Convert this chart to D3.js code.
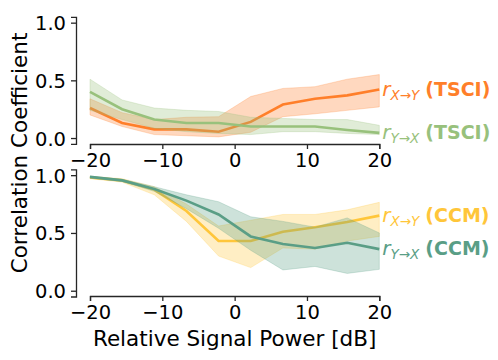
<!DOCTYPE html>
<html>
<head>
<meta charset="utf-8">
<script src="https://cdn.jsdelivr.net/npm/d3@7"></script>
<style>
  body { margin: 0; background: #fff; }
  svg text { font-family: "DejaVu Sans", sans-serif; }
</style>
</head>
<body>
<div id="chart"></div>
<script>
// relative signal power [dB]
const snr = [-20, -15.56, -11.11, -6.67, -2.22, 2.22, 6.67, 11.11, 15.56, 20];
const xTicks = [-20, -10, 0, 10, 20];
const yTicks = [0, 0.5, 1];

// top panel: TSCI
const tsciXY   = [0.26, 0.13, 0.075, 0.075, 0.055, 0.14, 0.29, 0.34, 0.37, 0.42];
const tsciXYLo = [0.20, 0.10, 0.03, 0.02, 0.01, 0.05, 0.185, 0.21, 0.24, 0.27];
const tsciXYHi = [0.34, 0.22, 0.16, 0.18, 0.185, 0.36, 0.43, 0.445, 0.51, 0.55];
const tsciYX   = [0.40, 0.25, 0.16, 0.13, 0.13, 0.10, 0.10, 0.10, 0.07, 0.045];
const tsciYXLo = [0.24, 0.16, 0.085, 0.055, 0.04, 0.03, 0.055, 0.055, 0.04, 0.03];
const tsciYXHi = [0.51, 0.33, 0.26, 0.24, 0.23, 0.18, 0.17, 0.16, 0.16, 0.11];

// bottom panel: CCM
const ccmXY   = [0.98, 0.955, 0.875, 0.69, 0.43, 0.43, 0.51, 0.55, 0.595, 0.65];
const ccmXYLo = [0.97, 0.94, 0.83, 0.60, 0.30, 0.20, 0.37, 0.36, 0.43, 0.47];
const ccmXYHi = [0.99, 0.97, 0.90, 0.75, 0.56, 0.61, 0.66, 0.66, 0.70, 0.765];
const ccmYX   = [0.985, 0.955, 0.88, 0.78, 0.66, 0.47, 0.405, 0.37, 0.415, 0.36];
const ccmYXLo = [0.975, 0.945, 0.86, 0.71, 0.54, 0.35, 0.18, 0.21, 0.15, 0.185];
const ccmYXHi = [0.99, 0.965, 0.90, 0.83, 0.77, 0.64, 0.60, 0.55, 0.63, 0.50];

const width = 498, height = 360;

const svg = d3.select("#chart")
  .append("svg")
  .attr("width", width)
  .attr("height", height);

// shared x scale
const x = d3.scaleLinear().domain([-20, 20]).range([90, 379.3]);

// one y scale per panel
const yTop = d3.scaleLinear().domain([-0.05, 1.05]).range([143.8, 16.9]);
const yBot = d3.scaleLinear().domain([-0.05, 1.05]).range([296.5, 169.4]);

const spineColor = "#262626";
const tickFont = 19.5;

function drawAxes(y, xSpineY) {
  // y axis (offset spine)
  const gy = svg.append("g")
    .attr("transform", "translate(76,0)")
    .call(d3.axisLeft(y).tickValues(yTicks).tickFormat(d3.format(".1f")).tickSize(5).tickPadding(5));
  gy.selectAll("text").attr("font-size", tickFont).attr("fill", "#000").attr("dy", "0.36em");
  // x axis (offset spine)
  const gx = svg.append("g")
    .attr("transform", `translate(0,${xSpineY})`)
    .call(d3.axisBottom(x).tickValues(xTicks).tickFormat(d => d < 0 ? "\u2212" + Math.abs(d) : d).tickSize(5).tickPadding(4));
  gx.selectAll("text").attr("font-size", tickFont).attr("fill", "#000");
  [gx, gy].forEach(g => {
    g.select(".domain").attr("stroke", spineColor).attr("stroke-width", 1.3);
    g.selectAll(".tick line").attr("stroke", spineColor).attr("stroke-width", 1.3);
  });
}

function drawSeries(y, vals, lo, hi, color) {
  const area = d3.area()
    .x((d, i) => x(snr[i]))
    .y0((d, i) => y(lo[i]))
    .y1((d, i) => y(hi[i]));
  svg.append("path")
    .datum(vals)
    .attr("d", area)
    .attr("fill", color)
    .attr("fill-opacity", 0.3)
    .attr("stroke", color)
    .attr("stroke-opacity", 0.25)
    .attr("stroke-width", 1);
  const line = d3.line()
    .x((d, i) => x(snr[i]))
    .y(d => y(d));
  svg.append("path")
    .datum(vals)
    .attr("d", line)
    .attr("fill", "none")
    .attr("stroke", color)
    .attr("stroke-width", 2.6);
}

// label next to the line end: r_{sub} (method)
function drawLabel(y, vals, sub, method, color) {
  const t = svg.append("text")
    .attr("x", x(20) + 3)
    .attr("y", y(vals[vals.length - 1]) + 6)
    .attr("fill", color)
    .attr("font-size", 19);
  t.append("tspan").attr("font-style", "italic").attr("font-size", 20).text("r");
  t.append("tspan").attr("font-style", "italic").attr("font-size", 13.5).attr("dy", 4).text(sub);
  t.append("tspan").attr("font-weight", "bold").attr("dy", -4).attr("dx", 6).text(method);
}

const cOrange = "#ff7f2a", cGreen = "#98c17c", cYellow = "#ffc63a", cTeal = "#5a9e86";

drawAxes(yTop, 144);
drawSeries(yTop, tsciXY, tsciXYLo, tsciXYHi, cOrange);
drawSeries(yTop, tsciYX, tsciYXLo, tsciYXHi, cGreen);
drawLabel(yTop, tsciXY, "X\u2192Y", "(TSCI)", cOrange);
drawLabel(yTop, tsciYX, "Y\u2192X", "(TSCI)", cGreen);

drawAxes(yBot, 296);
drawSeries(yBot, ccmXY, ccmXYLo, ccmXYHi, cYellow);
drawSeries(yBot, ccmYX, ccmYXLo, ccmYXHi, cTeal);
drawLabel(yBot, ccmXY, "X\u2192Y", "(CCM)", cYellow);
drawLabel(yBot, ccmYX, "Y\u2192X", "(CCM)", cTeal);

// axis titles
svg.append("text")
  .attr("x", (x(-20) + x(20)) / 2)
  .attr("y", 346)
  .attr("text-anchor", "middle")
  .attr("font-size", 21.5)
  .text("Relative Signal Power [dB]");

svg.append("text")
  .attr("transform", "translate(27,153) rotate(-90)")
  .attr("text-anchor", "middle")
  .attr("font-size", 21.5)
  .text("Correlation Coefficient");
</script>
</body>
</html>
